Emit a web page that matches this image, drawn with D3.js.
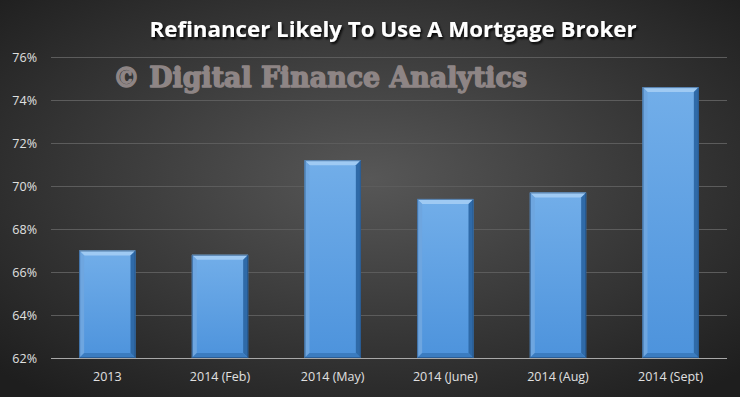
<!DOCTYPE html>
<html><head><meta charset="utf-8">
<script src="https://cdn.jsdelivr.net/npm/d3@7"></script>
<style>html,body{margin:0;padding:0;background:#2a2a2a;}svg{display:block;}</style>
</head><body>
<script>
const categories = ["2013","2014 (Feb)","2014 (May)","2014 (June)","2014 (Aug)","2014 (Sept)"];
const values = [0.670, 0.668, 0.712, 0.694, 0.697, 0.746];
const yTicks = [0.62,0.64,0.66,0.68,0.70,0.72,0.74,0.76];
const title = "Refinancer Likely To Use A Mortgage Broker";
const watermark = "© Digital Finance Analytics";

const W = 740, H = 397;
const m = {left:51, right:13, top:57, bottom:39};
const svg = d3.select("body").append("svg").attr("width",W).attr("height",H);
const defs = svg.append("defs");

const bg = defs.append("radialGradient").attr("id","bg").attr("cx","50%").attr("cy","45%").attr("r","70%");
bg.append("stop").attr("offset","0%").attr("stop-color","#575757");
bg.append("stop").attr("offset","100%").attr("stop-color","#1e1e1e");
svg.append("rect").attr("width",W).attr("height",H).attr("fill","url(#bg)");

const bgGrad = defs.append("linearGradient").attr("id","barg").attr("x1",0).attr("y1",0).attr("x2",0).attr("y2",1);
bgGrad.append("stop").attr("offset","0%").attr("stop-color","#72aee9");
bgGrad.append("stop").attr("offset","100%").attr("stop-color","#4d93dc");

const x = d3.scaleBand().domain(categories).range([m.left, W-m.right]).paddingInner(0.5).paddingOuter(0.25);
const y = d3.scaleLinear().domain([0.62,0.76]).range([H-m.bottom, m.top]);

svg.append("g").selectAll("line").data(yTicks.slice(1)).join("line")
  .attr("x1",m.left).attr("x2",W-m.right)
  .attr("y1",d=>Math.round(y(d))+0.5).attr("y2",d=>Math.round(y(d))+0.5)
  .attr("stroke","#5c5c5c").attr("stroke-width",1);

// watermark (faux bold via stroke)
svg.append("text").attr("x",113).attr("y",87)
  .attr("font-family","DejaVu Serif, Liberation Serif, serif").attr("font-weight","bold")
  .attr("font-size",27).attr("fill","#8e8585")
  .attr("stroke","#8e8585").attr("stroke-width",1.4).attr("stroke-linejoin","round")
  .attr("textLength",414).attr("lengthAdjust","spacingAndGlyphs")
  .text(watermark);

const bevel = 5;
const bars = svg.append("g").selectAll("g").data(values).join("g");
bars.each(function(v,i){
  const g = d3.select(this);
  const x0 = x(categories[i]), bw = x.bandwidth();
  const y0 = y(v), y1 = y(0.62);
  g.append("rect").attr("x",x0).attr("y",y0).attr("width",bw).attr("height",y1-y0).attr("fill","url(#barg)");
  g.append("polygon").attr("points",[[x0,y0],[x0+bw,y0],[x0+bw-bevel,y0+bevel],[x0+bevel,y0+bevel]].join(" ")).attr("fill","#9fcaf3");
  g.append("polygon").attr("points",[[x0,y0],[x0+bevel,y0+bevel],[x0+bevel,y1-bevel],[x0,y1]].join(" ")).attr("fill","#6ea6e0");
  g.append("polygon").attr("points",[[x0+bw,y0],[x0+bw,y1],[x0+bw-bevel,y1-bevel],[x0+bw-bevel,y0+bevel]].join(" ")).attr("fill","#2f6aa8");
  g.append("polygon").attr("points",[[x0,y1],[x0+bw,y1],[x0+bw-bevel,y1-bevel],[x0+bevel,y1-bevel]].join(" ")).attr("fill","#3b7cc0");
  g.append("rect").attr("x",x0+0.5).attr("y",y0+0.5).attr("width",bw-1).attr("height",y1-y0-1).attr("fill","none").attr("stroke","#1f4a78").attr("stroke-width",1).attr("stroke-opacity",0.6);
});

svg.append("line").attr("x1",m.left).attr("x2",W-m.right).attr("y1",Math.round(y(0.62))+0.5).attr("y2",Math.round(y(0.62))+0.5)
  .attr("stroke","#a8a8a8").attr("stroke-width",1);

const yAxis = svg.append("g").attr("transform",`translate(${m.left},0)`)
  .call(d3.axisLeft(y).tickValues(yTicks).tickFormat(d3.format(".0%")).tickSize(0).tickPadding(14));
yAxis.select(".domain").remove();
yAxis.selectAll("text").attr("fill","#e0e0e0").attr("font-family","Open Sans, DejaVu Sans, sans-serif").attr("font-size",12.5);

const xAxis = svg.append("g").attr("transform",`translate(0,${y(0.62)})`)
  .call(d3.axisBottom(x).tickSize(0).tickPadding(14));
xAxis.select(".domain").remove();
xAxis.selectAll("text").attr("fill","#e0e0e0").attr("font-family","Open Sans, DejaVu Sans, sans-serif").attr("font-size",12.5);

const tf = defs.append("filter").attr("id","sh").attr("x","-10%").attr("y","-50%").attr("width","120%").attr("height","200%");
tf.append("feDropShadow").attr("dx",1.5).attr("dy",2).attr("stdDeviation",1.2).attr("flood-color","#000").attr("flood-opacity",0.9);
svg.append("text").attr("x",393).attr("y",37).attr("text-anchor","middle")
  .attr("font-family","Open Sans, DejaVu Sans, sans-serif").attr("font-weight","bold").attr("font-size",21)
  .attr("fill","#ffffff").attr("filter","url(#sh)")
  .attr("textLength",487).attr("lengthAdjust","spacingAndGlyphs")
  .text(title);
</script>
</body></html>
